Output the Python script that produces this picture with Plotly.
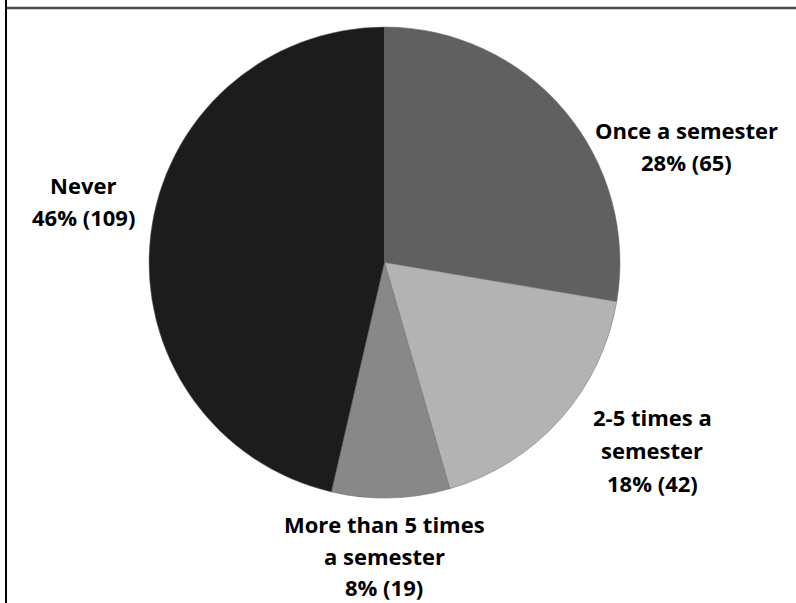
import plotly.graph_objects as go

W, H = 796, 603

categories = ["Once a semester", "2-5 times a semester", "More than 5 times a semester", "Never"]
counts = [65, 42, 19, 109]
percents = [28, 18, 8, 46]
colors = ["#606060", "#b3b3b3", "#888888", "#1c1c1c"]
label_lines = [
    ["Once a semester", "28% (65)"],
    ["2-5 times a", "semester", "18% (42)"],
    ["More than 5 times", "a semester", "8% (19)"],
    ["Never", "46% (109)"],
]
# label centers in pixels: x, first line y, line spacing
label_pos = [(686, 130, 32), (652, 417, 33), (384, 524, 31.5), (83, 185, 32)]

fig = go.Figure(go.Pie(
    labels=categories,
    values=counts,
    marker=dict(colors=colors, line=dict(color="#6a6a6a", width=0.5)),
    sort=False,
    direction="clockwise",
    rotation=0,
    textinfo="none",
    hoverinfo="label+value+percent",
    showlegend=False,
    domain=dict(x=[148 / W, 621 / W], y=[1 - 498 / H, 1 - 27 / H]),
))

font = dict(family="'Open Sans', sans-serif", size=22, color="#000000")
for lines, (px, py, dy) in zip(label_lines, label_pos):
    for i, line in enumerate(lines):
        fig.add_annotation(
            x=px / W, y=1 - (py + i * dy) / H, xref="paper", yref="paper",
            text="<b>" + line + "</b>", showarrow=False,
            xanchor="center", yanchor="middle", align="center", font=font,
        )

# frame lines
fig.add_shape(type="line", xref="paper", yref="paper",
              x0=5 / W, x1=1, y0=1 - 8 / H, y1=1 - 8 / H,
              line=dict(color="#4a4a4a", width=2.5))
fig.add_shape(type="line", xref="paper", yref="paper",
              x0=6 / W, x1=6 / W, y0=0, y1=1,
              line=dict(color="#000000", width=2))

fig.update_layout(
    width=W, height=H,
    margin=dict(l=0, r=0, t=0, b=0),
    paper_bgcolor="white",
    plot_bgcolor="white",
)

fig.write_html("out.html")
